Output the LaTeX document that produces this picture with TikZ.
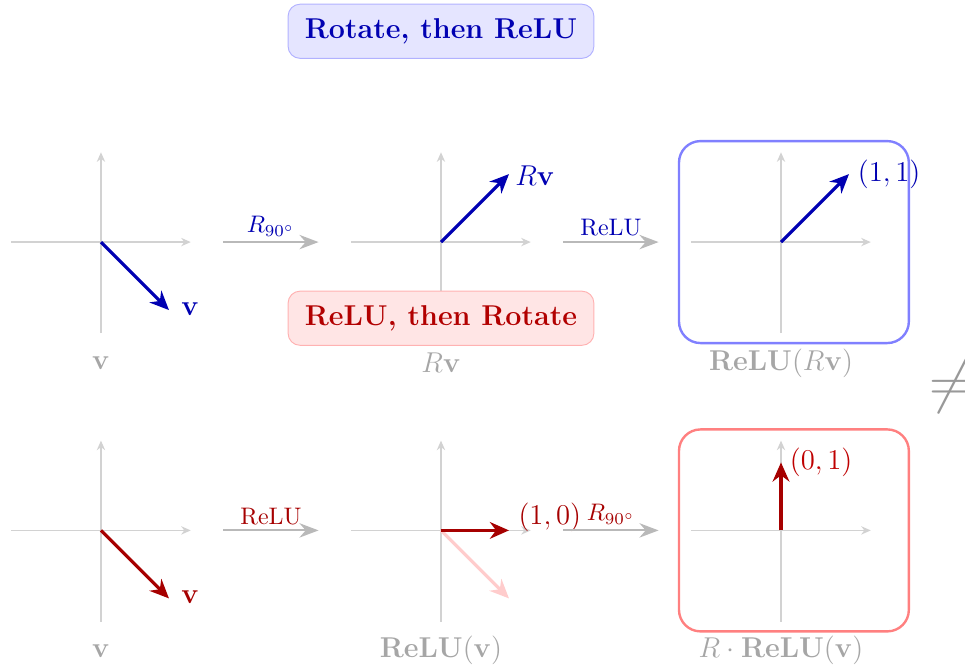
\documentclass[tikz,border=0pt]{standalone}
\usepackage{amsmath}
\usetikzlibrary{arrows.meta}

\begin{document}
\begin{tikzpicture}

  \tikzset{axis/.style = {-{Stealth[length=4pt,width=3.5pt]}, gray!35, line width=0.5pt}}
  \tikzset{vecb/.style = {-{Stealth[length=8pt,width=7pt]}, blue!70!black, line width=1.3pt}}
  \tikzset{vecr/.style = {vecb, red!65!black}}
  \tikzset{trans/.style = {-{Stealth[length=8pt,width=6pt]}, gray!55, line width=0.9pt}}
  \tikzset{panel/.style = {gray!70, font=\large}}
  \tikzset{result/.style = {rounded corners=9pt, line width=1pt}}
  \tikzset{headline/.style = {rounded corners=5pt, inner xsep=7pt, inner ysep=6pt, font=\large\bfseries}}

  \useasboundingbox (-1.485,-6.235) rectangle (12.706,3.56);

  % origins and tips
  \coordinate (o1) at (0,0);
  \coordinate (o2) at (5,0);
  \coordinate (o3) at (10,0);
  \coordinate (p1) at (0,-4.24);
  \coordinate (p2) at (5,-4.24);
  \coordinate (p3) at (10,-4.24);
  \coordinate (t1) at (1,-1);
  \coordinate (t2) at (6,1);
  \coordinate (t3) at (11,1);
  \coordinate (u1) at (1,-5.24);
  \coordinate (u2) at (6,-4.24);
  \coordinate (u2old) at (6,-5.24);
  \coordinate (u3) at (10,-3.24);

  % headlines
  \node[headline, fill=blue!10, draw=blue!30, text=blue!70!black] (top) at (5,3.10) {Rotate, then ReLU};

  % axes
  \draw[axis] (-1.32,0) -- (1.32,0);
  \draw[axis] (0,-1.34) -- (0,1.32);
  \draw[axis] (3.68,0) -- (6.32,0);
  \draw[axis] (5,-1.34) -- (5,1.32);
  \draw[axis] (8.68,0) -- (11.32,0);
  \draw[axis] (10,-1.34) -- (10,1.32);
  \draw[axis] (-1.32,-4.24) -- (1.32,-4.24);
  \draw[axis] (0,-5.58) -- (0,-2.92);
  \draw[axis] (3.68,-4.24) -- (6.32,-4.24);
  \draw[axis] (5,-5.58) -- (5,-2.92);
  \draw[axis] (8.68,-4.24) -- (11.32,-4.24);
  \draw[axis] (10,-5.58) -- (10,-2.92);

  % result boxes
  \draw[result, blue!50] (8.5,-1.485) rectangle (11.88,1.485);
  \draw[result, red!50] (8.5,-5.725) rectangle (11.88,-2.755);

  % vectors
  \draw[vecb] (o1) -- (t1);
  \draw[vecb] (o2) -- (t2);
  \draw[vecb] (o3) -- (t3);
  \draw[vecr] (p1) -- (u1);
  \draw[vecr, red!20] (p2) -- (u2old);
  \draw[vecr] (p2) -- (u2);
  \draw[vecr] (p3) -- (u3);

  % vector labels
  \node[text=blue!70!black, font=\large] (v1) at (1.31,-0.985) {$\mathbf{v}$};
  \node[text=blue!70!black, font=\large] (v2) at (6.38,0.97) {$R\mathbf{v}$};
  \node[text=blue!70!black, font=\large] (v3) at (11.59,1.0) {$(1,1)$};
  \node[text=red!65!black, font=\large] (w1) at (1.31,-5.225) {$\mathbf{v}$};
  \node[text=red!65!black, font=\large] (w2) at (6.6,-4.05) {$(1,0)$};
  \node[text=red!75!black, font=\large] (w3) at (10.59,-3.24) {$(0,1)$};

  % panel labels
  \node[panel] (n1) at (0,-1.78) {$\mathbf{v}$};
  \node[panel] (n2) at (5,-1.78) {$R\mathbf{v}$};
  \node[panel] (n3) at (10,-1.78) {$\mathbf{ReLU}(R\mathbf{v})$};
  \node[panel] (m1) at (0,-6.01) {$\mathbf{v}$};
  \node[panel] (m2) at (5,-6.01) {$\mathbf{ReLU}(\mathbf{v})$};
  \node[panel] (m3) at (10,-6.01) {$R\cdot\mathbf{ReLU}(\mathbf{v})$};

  % steps
  \coordinate (a1) at (1.8,0);
  \coordinate (b1) at (3.2,0);
  \coordinate (a2) at (6.8,0);
  \coordinate (b2) at (8.2,0);
  \coordinate (c1) at (1.8,-4.24);
  \coordinate (d1) at (3.2,-4.24);
  \coordinate (c2) at (6.8,-4.24);
  \coordinate (d2) at (8.2,-4.24);
  \draw[trans] (a1) -- node[above, text=blue!70!black, inner sep=2pt] (s1) {$R_{90^\circ}$} (b1);
  \draw[trans] (a2) -- node[above, text=blue!70!black, inner sep=2pt] (s2) {ReLU} (b2);
  \draw[trans] (c1) -- node[above, text=red!65!black, inner sep=2pt] (s3) {ReLU} (d1);
  \draw[trans] (c2) -- node[above, text=red!65!black, inner sep=2pt] (s4) {$R_{90^\circ}$} (d2);

  \node[headline, fill=red!10, draw=red!30, text=red!70!black] (bottom) at (5,-1.12) {ReLU, then Rotate};

  % not equal
  \node[gray!80, font=\Huge] (neq) at (12.5,-2.12) {$\neq$};
\end{tikzpicture}
\end{document}
